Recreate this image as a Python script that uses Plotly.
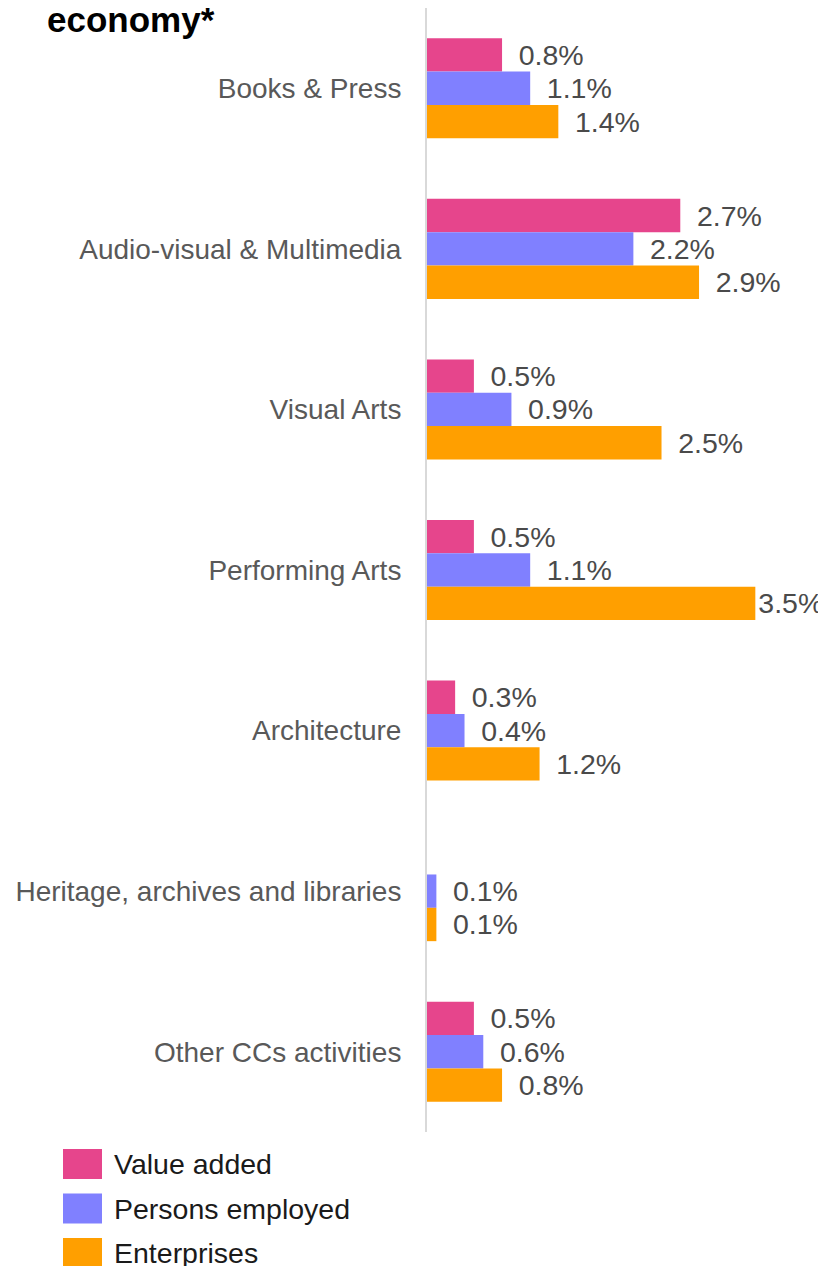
import plotly.graph_objects as go

categories = ["Books & Press", "Audio-visual & Multimedia", "Visual Arts", "Performing Arts",
              "Architecture", "Heritage, archives and libraries", "Other CCs activities"]
series_names = ["Value added", "Persons employed", "Enterprises"]
value_added = [0.8, 2.7, 0.5, 0.5, 0.3, None, 0.5]
persons_employed = [1.1, 2.2, 0.9, 1.1, 0.4, 0.1, 0.6]
enterprises = [1.4, 2.9, 2.5, 3.5, 1.2, 0.1, 0.8]
colors = ["#E6458C", "#8080FF", "#FF9F00"]
title_text = "economy*"

# page body has an 8px margin: shift everything so that it lands at the reference pixels
OX, OY = 8, 8
W, H = 826 - OX, 1266 - OY
L, R, T, B = 427 - OX, 5, 8 - OY, 1266 - 1132
PW, PH = W - L - R, H - T - B
XMAX = 4.2

def px_x(x):
    return (x - OX - L) / PW

def px_y(y):
    return (H - B - (y - OY)) / PH

FONT = "Liberation Sans, Arial, sans-serif"
PAD = "\u00a0\u2009"

def templates(vals):
    # labels that would run past the right edge are pulled close to their bar
    return [("" if (v is not None and v > XMAX - 0.8) else PAD) + "%{x:.1f}%" for v in vals]

fig = go.Figure()
for name, vals, col in zip(series_names, [value_added, persons_employed, enterprises], colors):
    fig.add_trace(go.Bar(
        y=categories, x=vals, name=name, orientation="h",
        marker=dict(color=col, line=dict(width=0)),
        texttemplate=templates(vals), textposition="outside",
        textfont=dict(size=28.5, color="#4a4a4a", family=FONT),
        constraintext="none", cliponaxis=False, showlegend=False,
    ))

fig.update_layout(
    width=W, height=H,
    margin=dict(l=L, r=R, t=T, b=B),
    barmode="group", bargap=0.377, bargroupgap=0,
    plot_bgcolor="white", paper_bgcolor="white",
    font=dict(family=FONT),
    xaxis=dict(range=[0, XMAX], showticklabels=False, showgrid=False, zeroline=False,
               showline=False, fixedrange=True),
    yaxis=dict(autorange="reversed", showgrid=False, zeroline=False,
               showline=True, linecolor="#d9d9d9", linewidth=2,
               ticks="", ticklabelstandoff=18,
               tickfont=dict(size=28, color="#595959", family=FONT)),
)

# title (cut-off in reference)
fig.add_annotation(text="<b>" + title_text + "</b>", xref="paper", yref="paper",
                   x=px_x(45), y=px_y(19), xanchor="left", yanchor="middle",
                   showarrow=False, font=dict(size=35, color="black", family=FONT))

# custom legend
row_centers = [1164, 1208.5, 1253]
for name, col, cy in zip(series_names, colors, row_centers):
    fig.add_shape(type="rect", xref="paper", yref="paper",
                  x0=px_x(63), x1=px_x(102), y0=px_y(cy + 15), y1=px_y(cy - 15),
                  fillcolor=col, line=dict(width=0))
    fig.add_annotation(text=name, xref="paper", yref="paper",
                       x=px_x(112), y=px_y(cy), xanchor="left", yanchor="middle",
                       showarrow=False, font=dict(size=28.5, color="#1a1a1a", family=FONT))

fig.write_html("out.html")
